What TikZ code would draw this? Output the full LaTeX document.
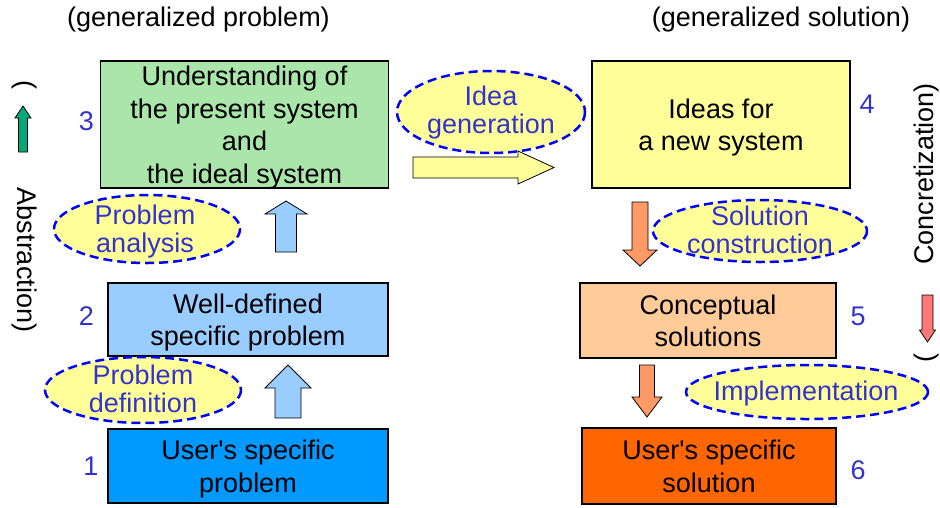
\documentclass[tikz,border=0pt]{standalone}
\usepackage{fontspec}
\setmainfont{Liberation Sans}
\definecolor{boxgreen}{RGB}{170,230,170}
\definecolor{boxyellow}{RGB}{255,255,153}
\definecolor{boxlightblue}{RGB}{153,204,255}
\definecolor{boxpeach}{RGB}{255,204,153}
\definecolor{boxblue}{RGB}{0,153,255}
\definecolor{boxorange}{RGB}{255,102,0}
\definecolor{arroworange}{RGB}{255,153,102}
\definecolor{arrowgreen}{RGB}{0,170,120}
\definecolor{arrowpink}{RGB}{255,119,119}
\definecolor{numblue}{RGB}{51,51,204}
\tikzset{
  box/.style={draw=black, line width=1.5pt, align=center, inner sep=0pt, text depth=0pt,
    font=\fontsize{27}{32.5}\selectfont},
  bubble/.style={draw=blue, fill=boxyellow, line width=2.5pt, dash pattern=on 9pt off 5pt},
  bubbletext/.style={text=numblue, align=center, inner sep=0pt, text depth=0pt,
    font=\fontsize{27}{28}\selectfont},
  num/.style={text=numblue, inner sep=0pt, font=\fontsize{27}{32}\selectfont},
  side/.style={inner sep=0pt, font=\fontsize{27}{32}\selectfont},
  blockarrow/.style={draw=black, line width=0.8pt, line join=miter}
}
\begin{document}
\begin{tikzpicture}[x=1pt, y=-1pt]
\useasboundingbox (0,0) rectangle (940,507);
% headings
\node[side] (genprob) at (198.5,20) {(generalized problem)};
\node[side] (gensol) at (781,20) {(generalized solution)};
% boxes, left column
\node[box, fill=boxgreen, minimum width=288pt, minimum height=127pt] (understand) at (244.5,124.5)
  {Understanding of\\the present system\\and\\the ideal system};
\node[box, fill=boxlightblue, minimum width=280pt, minimum height=73pt] (specprob) at (248,319.5)
  {Well-defined\\specific problem};
\node[box, fill=boxblue, minimum width=280pt, minimum height=74pt] (userprob) at (248,466)
  {User\textquotesingle s specific\\problem};
% boxes, right column
\node[box, fill=boxyellow, minimum width=258pt, minimum height=127pt] (ideas) at (721,124.5)
  {Ideas for\\a new system};
\node[box, fill=boxpeach, minimum width=256pt, minimum height=75pt] (concept) at (708,320.5)
  {Conceptual\\solutions};
\node[box, fill=boxorange, minimum width=254pt, minimum height=76pt] (usersol) at (709,466)
  {User\textquotesingle s specific\\solution};
% numbers
\node[num] (n3) at (86.5,121) {3};
\node[num] (n2) at (86.5,316) {2};
\node[num] (n1) at (91,466) {1};
\node[num] (n4) at (867,104) {4};
\node[num] (n5) at (858,316) {5};
\node[num] (n6) at (858,470) {6};
% dashed bubbles
\foreach \cx/\cy/\rx/\ry in {491/112/94/41, 147/229/93/34, 143/390/98/33, 760/231/107/31, 807/392/121/27}
  \draw[bubble] (\cx,\cy) ellipse [x radius=\rx, y radius=\ry];
\node[bubbletext] (ideagen) at (491,110) {Idea\\generation};
\node[bubbletext] (analysis) at (145,229) {Problem\\analysis};
\node[bubbletext] (definition) at (143,389) {Problem\\definition};
\node[bubbletext] (construct) at (760,230) {Solution\\construction};
\node[bubbletext] (implement) at (806,391) {Implementation};
% block arrows (up and down)
\foreach \cx/\ytail/\ybase/\ytip/\ws/\wh/\col in {
    286/252/214/201/10.5/21/boxlightblue,
    288/418/388/365/13/23/boxlightblue,
    640/202/250/266/8/17/arroworange,
    647/365/397/417/7.5/15/arroworange,
    23/152/118/106/4.5/8/arrowgreen,
    927.5/295/330/342/5.5/8/arrowpink}
  \draw[blockarrow, fill=\col] (\cx-\ws,\ytail) -- (\cx-\ws,\ybase) -- (\cx-\wh,\ybase)
    -- (\cx,\ytip) -- (\cx+\wh,\ybase) -- (\cx+\ws,\ybase) -- (\cx+\ws,\ytail) -- cycle;
% block arrow to the right
\draw[blockarrow, fill=boxyellow] (413,157) -- (518,157) -- (518,151) -- (554,167.5)
  -- (518,184) -- (518,178) -- (413,178) -- cycle;
% side labels
\node[side, rotate=-90] (absopen) at (24,85) {(};
\node[side, rotate=-90] (abstraction) at (24,260) {Abstraction)};
\node[side, rotate=90] (concretization) at (927,174) {Concretization)};
\node[side, rotate=90] (concopen) at (927,358) {(};
\end{tikzpicture}
\end{document}
